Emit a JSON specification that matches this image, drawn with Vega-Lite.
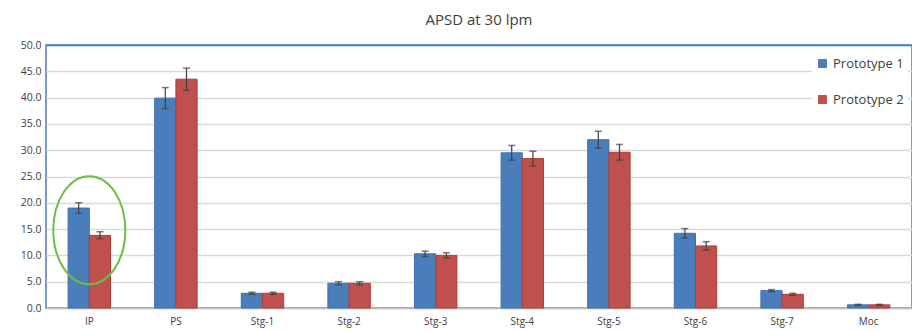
{
  "$schema": "https://vega.github.io/schema/vega-lite/v6.json",
  "width": 866,
  "height": 263,
  "autosize": {"type": "none"},
  "padding": {"left": 46, "top": 45, "right": 0, "bottom": 23},
  "background": "white",
  "title": {"text": "APSD at 30 lpm", "fontSize": 15, "fontWeight": "normal", "font": "Open Sans", "color": "#404040", "anchor": "middle", "offset": 12},
  "config": {
    "view": {"stroke": "#4a7ac8", "strokeWidth": 1.5},
    "font": "Open Sans",
    "axisY": {"labelOverlap": false, "format": ".1f", "labelFontSize": 10.5, "labelColor": "#404040", "grid": true, "gridColor": {"condition": {"test": "datum.value === 50", "value": "#4a7ac8"}, "value": "#d9d9d9"}, "gridWidth": 1.5, "domain": false, "ticks": false, "labelPadding": 5, "title": null}
  },
  "datasets": {
    "bars": [
      {"cat": "IP", "series": "Prototype 1", "value": 19.0, "lo": 18.0, "hi": 20.0},
      {"cat": "IP", "series": "Prototype 2", "value": 13.8, "lo": 13.2, "hi": 14.5},
      {"cat": "PS", "series": "Prototype 1", "value": 39.9, "lo": 37.9, "hi": 41.9},
      {"cat": "PS", "series": "Prototype 2", "value": 43.5, "lo": 41.4, "hi": 45.6},
      {"cat": "Stg-1", "series": "Prototype 1", "value": 2.8, "lo": 2.6, "hi": 3.0},
      {"cat": "Stg-1", "series": "Prototype 2", "value": 2.8, "lo": 2.6, "hi": 3.0},
      {"cat": "Stg-2", "series": "Prototype 1", "value": 4.7, "lo": 4.4, "hi": 5.0},
      {"cat": "Stg-2", "series": "Prototype 2", "value": 4.7, "lo": 4.4, "hi": 5.0},
      {"cat": "Stg-3", "series": "Prototype 1", "value": 10.3, "lo": 9.8, "hi": 10.8},
      {"cat": "Stg-3", "series": "Prototype 2", "value": 10.0, "lo": 9.5, "hi": 10.5},
      {"cat": "Stg-4", "series": "Prototype 1", "value": 29.5, "lo": 28.1, "hi": 30.9},
      {"cat": "Stg-4", "series": "Prototype 2", "value": 28.4, "lo": 27.0, "hi": 29.8},
      {"cat": "Stg-5", "series": "Prototype 1", "value": 32.0, "lo": 30.4, "hi": 33.6},
      {"cat": "Stg-5", "series": "Prototype 2", "value": 29.6, "lo": 28.1, "hi": 31.1},
      {"cat": "Stg-6", "series": "Prototype 1", "value": 14.2, "lo": 13.3, "hi": 15.1},
      {"cat": "Stg-6", "series": "Prototype 2", "value": 11.8, "lo": 11.0, "hi": 12.6},
      {"cat": "Stg-7", "series": "Prototype 1", "value": 3.3, "lo": 3.1, "hi": 3.5},
      {"cat": "Stg-7", "series": "Prototype 2", "value": 2.6, "lo": 2.4, "hi": 2.8},
      {"cat": "Moc", "series": "Prototype 1", "value": 0.6, "lo": 0.5, "hi": 0.7},
      {"cat": "Moc", "series": "Prototype 2", "value": 0.6, "lo": 0.5, "hi": 0.7}
    ],
    "mark": [
      {"cat": "IP", "y": 14.8}
    ]
  },
  "encoding": {
    "x": {
      "field": "cat", "type": "nominal", "sort": null,
      "scale": {"paddingInner": 0.51, "paddingOuter": 0.255},
      "axis": {"title": null, "labelAngle": 0, "labelFontSize": 10, "labelColor": "#404040", "domainColor": "#bfbfbf", "domainWidth": 1.5, "ticks": false, "labelPadding": 8}
    }
  },
  "layer": [
    {
      "data": {"name": "bars"},
      "mark": {"type": "bar", "strokeWidth": 1},
      "encoding": {
        "xOffset": {"field": "series", "type": "nominal", "scale": {"paddingInner": 0, "paddingOuter": 0}},
        "y": {
          "field": "value", "type": "quantitative",
          "scale": {"domain": [0, 50], "nice": false},
          "axis": {"values": [0, 5, 10, 15, 20, 25, 30, 35, 40, 45, 50]}
        },
        "color": {
          "field": "series", "type": "nominal",
          "scale": {"domain": ["Prototype 1", "Prototype 2"], "range": ["#4a7ebb", "#c0504d"]},
          "legend": {"title": null, "orient": "none", "legendX": 766, "legendY": 8, "symbolType": "square", "symbolSize": 80, "labelFontSize": 13, "labelColor": "#404040", "rowPadding": 22, "fillColor": "white", "padding": 4, "symbolStrokeWidth": 0}
        },
        "stroke": {
          "field": "series", "type": "nominal",
          "scale": {"domain": ["Prototype 1", "Prototype 2"], "range": ["#3f70ad", "#b03c39"]},
          "legend": null
        }
      }
    },
    {
      "data": {"name": "bars"},
      "mark": {"type": "rule", "color": "#404040", "strokeWidth": 1.2},
      "encoding": {
        "xOffset": {"field": "series", "type": "nominal"},
        "y": {"field": "lo", "type": "quantitative", "axis": {"values": [0, 5, 10, 15, 20, 25, 30, 35, 40, 45, 50]}},
        "y2": {"field": "hi"}
      }
    },
    {
      "data": {"name": "bars"},
      "mark": {"type": "tick", "color": "#404040", "size": 7, "thickness": 1.5},
      "encoding": {
        "xOffset": {"field": "series", "type": "nominal"},
        "y": {"field": "lo", "type": "quantitative", "axis": {"values": [0, 5, 10, 15, 20, 25, 30, 35, 40, 45, 50]}}
      }
    },
    {
      "data": {"name": "bars"},
      "mark": {"type": "tick", "color": "#404040", "size": 7, "thickness": 1.5},
      "encoding": {
        "xOffset": {"field": "series", "type": "nominal"},
        "y": {"field": "hi", "type": "quantitative", "axis": {"values": [0, 5, 10, 15, 20, 25, 30, 35, 40, 45, 50]}}
      }
    },
    {
      "data": {"name": "mark"},
      "mark": {"type": "point", "shape": "M -0.667 0 A 0.667 1 0 1 0 0.667 0 A 0.667 1 0 1 0 -0.667 0 Z", "size": 11664, "filled": false, "stroke": "#6abf3f", "strokeWidth": 2, "opacity": 1},
      "encoding": {
        "y": {"field": "y", "type": "quantitative", "axis": {"values": [0, 5, 10, 15, 20, 25, 30, 35, 40, 45, 50]}}
      }
    }
  ]
}
